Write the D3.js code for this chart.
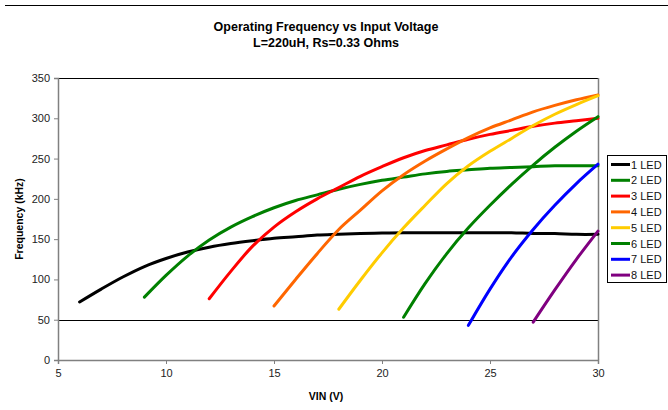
<!DOCTYPE html>
<html><head><meta charset="utf-8">
<script src="https://cdn.jsdelivr.net/npm/d3@7"></script>
<style>body{margin:0;background:#fff}svg{display:block;font-family:"Liberation Sans",Arial,sans-serif}</style>
</head><body><svg id="c" width="668" height="410"></svg>
<script>
const title1 = "Operating Frequency vs Input Voltage";
const title2 = "L=220uH, Rs=0.33 Ohms";
const xLabel = "VIN (V)";
const yLabel = "Frequency (kHz)";
const xTicks = [5, 10, 15, 20, 25, 30];
const yTicks = [0, 50, 100, 150, 200, 250, 300, 350];
const seriesNames = ["1 LED","2 LED","3 LED","4 LED","5 LED","6 LED","7 LED","8 LED"];
const seriesColors = ["#000000","#008000","#ff0000","#ff6600","#ffcc00","#008000","#0000ff","#800080"];
const led1 = [[6,72],[7,88],[8,103],[9,116],[10,126],[11,134],[12,140],[13,144.5],[14,148],[15,151],[16,153],[17,155],[18,156],[19,157],[20,157.5],[21,158],[22,158],[23,158],[24,158],[25,158],[26,158],[27,157],[28,157],[29,156],[30,156]];
const led2 = [[9,78],[10,105],[11,129],[12,149],[13,165],[14,178],[15,189],[16,198],[17,205],[18,212],[19,218],[20,223],[21,227],[22,231],[23,234],[24,236],[25,238],[26,239],[27,240],[28,241],[29,241],[30,241]];
const led3 = [[12,76],[13,110],[14,141],[15,165],[16,184],[17,200],[18,214],[19,228],[20,240],[21,251],[22,260],[23,267],[24,274],[25,280],[26,285],[27,290],[28,294],[29,297],[30,300]];
const led4 = [[15,67],[16,100],[17,132],[18,162],[19,186],[20,210],[21,230],[22,247],[23,262],[24,276],[25,288],[26,298],[27,308],[28,316],[29,323],[30,329]];
const led5 = [[18,63],[19,99],[20,133],[21,164],[22,192],[23,219],[24,241],[25,259],[26,275],[27,291],[28,305],[29,317],[30,328]];
const led6 = [[21,53],[22,95],[23,132],[24,164],[25,192],[26,218],[27,242],[28,264],[29,284],[30,302]];
const led7 = [[24,43],[25,88],[26,128],[27,162],[28,192],[29,219],[30,243]];
const led8 = [[27,47],[28,87],[29,125],[30,160]];
const seriesData = [led1, led2, led3, led4, led5, led6, led7, led8];

const svg = d3.select("#c");
const L = 58, R = 598, T = 78, B = 360;
const x = d3.scaleLinear().domain([5, 30]).range([L, R]);
const y = d3.scaleLinear().domain([0, 350]).range([B, T]);

// top border line
svg.append("line").attr("x1", 5).attr("x2", 668).attr("y1", 5.5).attr("y2", 5.5).attr("stroke", "#000").attr("stroke-width", 1.2);

// titles
svg.append("text").attr("x", 326).attr("y", 31).attr("text-anchor", "middle").attr("font-size", 12.5).attr("font-weight", "bold").text(title1);
svg.append("text").attr("x", 326).attr("y", 47).attr("text-anchor", "middle").attr("font-size", 12.5).attr("font-weight", "bold").text(title2);

// gridlines at 50 and 350
[50, 350].forEach(v => {
  svg.append("line").attr("x1", L).attr("x2", R).attr("y1", Math.round(y(v)) + 0.5).attr("y2", Math.round(y(v)) + 0.5).attr("stroke", "#000").attr("stroke-width", 1);
});
// right plot border
svg.append("line").attr("x1", R + 0.5).attr("x2", R + 0.5).attr("y1", T).attr("y2", B).attr("stroke", "#808080").attr("stroke-width", 1.5);

// axes
const xAxis = d3.axisBottom(x).tickValues(xTicks).tickSize(4).tickPadding(5);
const yAxis = d3.axisLeft(y).tickValues(yTicks).tickSize(4).tickPadding(4);
const gx = svg.append("g").attr("transform", `translate(0,${B})`).call(xAxis);
const gy = svg.append("g").attr("transform", `translate(${L},0)`).call(yAxis);
[gx, gy].forEach(g => {
  g.select(".domain").attr("stroke", "#808080").attr("stroke-width", 1.5);
  g.selectAll(".tick line").attr("stroke", "#808080");
  g.selectAll(".tick text").attr("font-size", 11).attr("fill", "#222").attr("font-family", "Liberation Sans, Arial, sans-serif");
});

// axis titles
svg.append("text").attr("x", 326).attr("y", 400).attr("text-anchor", "middle").attr("font-size", 10.5).attr("font-weight", "bold").text(xLabel);
svg.append("text").attr("transform", `translate(23,${(T + B) / 2}) rotate(-90)`).attr("text-anchor", "middle").attr("font-size", 10.5).attr("font-weight", "bold").text(yLabel);

// lines
const line = d3.line().x(d => x(d[0])).y(d => y(d[1])).curve(d3.curveCatmullRom.alpha(0.5));
seriesData.forEach((d, i) => {
  svg.append("path").attr("d", line(d)).attr("fill", "none").attr("stroke", seriesColors[i]).attr("stroke-width", 3).attr("stroke-linecap", "round").attr("stroke-linejoin", "round");
});

// legend
const lg = svg.append("g");
lg.append("rect").attr("x", 607.5).attr("y", 155.5).attr("width", 59).attr("height", 127).attr("fill", "#fff").attr("stroke", "#000").attr("stroke-width", 1);
seriesNames.forEach((n, i) => {
  const yy = 164.5 + i * 15.8;
  lg.append("line").attr("x1", 611).attr("x2", 630).attr("y1", yy).attr("y2", yy).attr("stroke", seriesColors[i]).attr("stroke-width", 3);
  lg.append("text").attr("x", 631).attr("y", yy + 4).attr("font-size", 11).attr("fill", "#111").text(n);
});
</script></body></html>
